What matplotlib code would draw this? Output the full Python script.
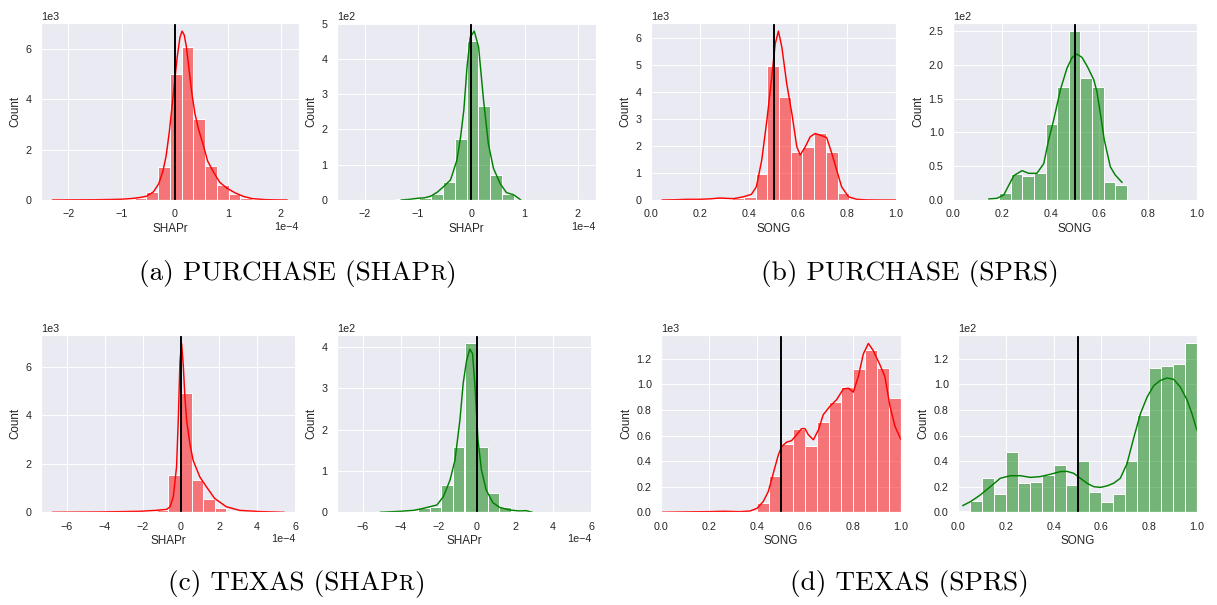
import numpy as np
import matplotlib
matplotlib.use("Agg")
import matplotlib.pyplot as plt
import seaborn as sns
from matplotlib.colors import to_rgba
from matplotlib.ticker import MaxNLocator

# SHAPr scores are listed in units of 1e-4, SONG scores as they are.
SHAPR_UNIT = 1e-4

# ---- PURCHASE, SHAPr (20 common bins over the pooled range) ----
purchase_shapr_range = (-2.30, 2.12)
purchase_shapr_mem = [2, 3, 5, 8, 12, 20, 40, 80, 330, 1320,
                      5000, 6070, 3230, 1360, 580, 220, 80, 30, 15, 8]
purchase_shapr_non = [0, 0, 0, 0, 3, 4, 6, 18, 50, 172,
                      450, 267, 71, 17, 1, 0, 0, 0, 0, 0]
purchase_shapr_mem_kde_x = [-2.30, -1.90, -1.50, -1.20, -1.00, -0.80, -0.65, -0.53, -0.40, -0.30,
                            -0.22, -0.16, -0.10, -0.05, 0.00, 0.05, 0.10, 0.14, 0.18, 0.22,
                            0.27, 0.32, 0.38, 0.45, 0.53, 0.62, 0.72, 0.85, 0.99, 1.15,
                            1.30, 1.46, 1.70, 1.90, 2.12]
purchase_shapr_mem_kde_y = [0, 5, 10, 20, 30, 60, 100, 150, 320, 640,
                            1150, 1750, 2700, 3700, 4700, 5700, 6450, 6700, 6550, 6100,
                            5200, 4300, 3450, 2800, 2250, 1550, 1150, 700, 460, 270,
                            140, 55, 15, 5, 0]
purchase_shapr_non_kde_x = [-1.32, -1.15, -1.00, -0.88, -0.76, -0.64, -0.52, -0.39, -0.27, -0.20,
                            -0.14, -0.08, -0.02, 0.056, 0.137, 0.23, 0.32, 0.416, 0.54, 0.66,
                            0.79, 0.86, 0.93]
purchase_shapr_non_kde_y = [0, 2, 5, 6, 11, 22, 38, 57, 113, 180,
                            255, 377, 462, 479, 434, 283, 160, 90, 47, 21,
                            15, 8, 0]

# ---- PURCHASE, SONG ----
purchase_song_range = (0.045, 1.0)
purchase_song_mem = [5, 10, 20, 30, 50, 40, 60, 120, 960, 4970,
                     3830, 1770, 1980, 2490, 1790, 270, 10, 3, 2, 2]
purchase_song_non = [0, 0, 1, 11, 38, 36, 40, 113, 168, 250,
                     180, 168, 27, 22, 0, 0, 0, 0, 0, 0]
purchase_song_mem_kde_x = [0.045, 0.10, 0.147, 0.20, 0.24, 0.28, 0.31, 0.337, 0.378, 0.41,
                           0.43, 0.452, 0.473, 0.493, 0.507, 0.52, 0.534, 0.554, 0.575, 0.595,
                           0.609, 0.63, 0.65, 0.67, 0.69, 0.717, 0.738, 0.758, 0.778, 0.806,
                           0.84, 0.88, 0.94, 1.0]
purchase_song_mem_kde_y = [0, 10, 25, 25, 40, 74, 60, 50, 120, 210,
                           490, 1480, 2960, 4570, 5800, 6270, 5680, 4320, 3210, 1980,
                           1670, 1980, 2350, 2470, 2410, 2320, 1730, 1110, 490, 120,
                           25, 5, 0, 0]
purchase_song_non_kde_x = [0.146, 0.18, 0.208, 0.249, 0.283, 0.31, 0.344, 0.372, 0.392, 0.413,
                           0.44, 0.467, 0.488, 0.508, 0.529, 0.55, 0.577, 0.59, 0.604, 0.62,
                           0.645, 0.665, 0.68, 0.693]
purchase_song_non_kde_y = [1.5, 2.5, 7.4, 36, 43.5, 39.5, 39.5, 54, 89, 119,
                           163, 195, 211, 216, 211, 198, 178, 160, 128, 89,
                           49, 37, 31, 26]

# ---- TEXAS, SHAPr ----
texas_shapr_range = (-6.75, 5.43)
texas_shapr_mem = [2, 2, 3, 4, 5, 6, 10, 20, 45, 100,
                   1530, 4910, 1320, 550, 190, 60, 30, 15, 8, 4]
texas_shapr_non = [0, 0, 0, 1, 1, 3, 10, 14, 65, 159,
                   409, 159, 46, 14, 3, 1, 0, 0, 0, 0]
texas_shapr_mem_kde_x = [-6.75, -4.23, -2.14, -1.27, -0.75, -0.57, -0.40, -0.23, -0.14, -0.05,
                         0.035, 0.12, 0.21, 0.30, 0.47, 0.64, 0.99, 1.34, 1.77, 2.38,
                         3.08, 4.12, 5.43]
texas_shapr_mem_kde_y = [0, 14, 41, 82, 120, 230, 640, 1870, 3780, 6230,
                         6960, 6100, 4730, 3780, 2830, 2140, 1460, 1050, 570, 230,
                         80, 30, 0]
texas_shapr_non_kde_x = [-5.09, -4.02, -3.32, -2.81, -2.46, -2.11, -1.77, -1.42, -1.16, -0.90,
                         -0.73, -0.55, -0.38, -0.24, -0.12, 0.05, 0.23, 0.48, 0.83, 1.18,
                         1.70, 2.22, 2.56, 2.91]
texas_shapr_non_kde_y = [0, 2.4, 4.8, 9.7, 13.7, 17.7, 37.9, 78.2, 126.6, 223.4,
                         312.1, 368.5, 395.2, 384.7, 312.1, 175, 102.4, 54, 23.4, 12.1,
                         5.6, 3.2, 4, 0]

# ---- TEXAS, SONG ----
texas_song_range = (0.0, 1.0)
texas_song_mem = [3, 2, 3, 2, 6, 7, 4, 10, 76, 280,
                  536, 654, 515, 703, 860, 978, 1124, 1265, 1127, 891]
texas_song_non = [1, 9, 27, 14, 47, 23, 24, 29, 37, 21,
                  40, 16, 8, 14, 40, 76, 113, 114, 116, 132]
texas_song_mem_kde_x = [0, 0.107, 0.2, 0.26, 0.329, 0.371, 0.4, 0.426, 0.447, 0.468,
                        0.489, 0.503, 0.524, 0.544, 0.565, 0.586, 0.6, 0.614, 0.635, 0.656,
                        0.676, 0.704, 0.732, 0.760, 0.781, 0.801, 0.822, 0.843, 0.864, 0.885,
                        0.913, 0.933, 0.954, 0.975, 1.0]
texas_song_mem_kde_y = [0, 3, 5, 8, 5, 10, 31, 84, 162, 306,
                        449, 515, 549, 560, 606, 654, 654, 606, 567, 645,
                        763, 829, 881, 965, 970, 939, 1060, 1238, 1320, 1262,
                        1150, 1060, 829, 672, 567]
texas_song_non_kde_x = [0.0195, 0.052, 0.093, 0.135, 0.177, 0.219, 0.261, 0.303, 0.344, 0.386,
                        0.428, 0.456, 0.484, 0.512, 0.54, 0.568, 0.596, 0.623, 0.651, 0.679,
                        0.707, 0.735, 0.763, 0.791, 0.819, 0.846, 0.874, 0.902, 0.93, 0.958,
                        0.979, 1.0]
texas_song_non_kde_y = [5.2, 8.3, 13.5, 20, 26.6, 28.6, 28.6, 27.3, 27.9, 29.7,
                        31.8, 32, 30.5, 26.6, 22.7, 20, 19.5, 20.6, 22.7, 26.6,
                        38, 58, 77, 90, 99, 103, 105, 104, 98, 88,
                        77, 64]

captions = ["(a) PURCHASE (SHAP", "(b) PURCHASE (SPRS)",
            "(c) TEXAS (SHAP", "(d) TEXAS (SPRS)"]

# ---- style ----
sns.set_theme(style="darkgrid")
plt.rcParams.update({
    "font.family": ["Liberation Sans", "DejaVu Sans"],
    "xtick.labelsize": 11,
    "ytick.labelsize": 11,
    "axes.labelsize": 12,
    "xtick.major.size": 0,
    "ytick.major.size": 0,
    "xtick.major.pad": 9.5,
    "ytick.major.pad": 9.5,
    "grid.linewidth": 1,
})

DPI = 70
fig = plt.figure(figsize=(1217 / DPI, 605 / DPI), dpi=DPI)
W, H = 1217.0, 605.0


def add_ax(left, top, right, bottom, **kw):
    return fig.add_axes([left / W, 1 - bottom / H, (right - left) / W, (bottom - top) / H], **kw)


def draw(ax, rng, counts, kx, ky, color, xlabel, scale=1.0, thresh=0.0):
    edges = np.linspace(rng[0], rng[1], len(counts) + 1) * scale
    ax.bar(edges[:-1], counts, width=np.diff(edges), align="edge",
           facecolor=to_rgba(color, 0.5), edgecolor="white", linewidth=1)
    ax.plot(np.asarray(kx) * scale, ky, color=color, lw=1.5)
    ax.axvline(thresh, color="black", lw=2)
    ax.set_xlabel(xlabel)
    ax.set_ylabel("Count")
    ax.yaxis.set_major_locator(MaxNLocator(7, steps=[1, 2, 2.5, 5, 10]))
    ax.ticklabel_format(style="sci", axis="both", scilimits=(0, 0))


ax1 = add_ax(40.7, 22.7, 299, 200)
ax2 = add_ax(337, 22.7, 596, 200, sharex=ax1)
ax3 = add_ax(651, 22.7, 896, 200)
ax4 = add_ax(953, 22.7, 1197, 200)
ax5 = add_ax(40.7, 335, 296, 512.3)
ax6 = add_ax(337, 335, 592, 512.3, sharex=ax5)
ax7 = add_ax(661, 335, 901, 512.3)
ax8 = add_ax(958, 335, 1197, 512.3)

draw(ax1, purchase_shapr_range, purchase_shapr_mem, purchase_shapr_mem_kde_x,
     purchase_shapr_mem_kde_y, "red", "SHAPr", SHAPR_UNIT)
draw(ax2, purchase_shapr_range, purchase_shapr_non, purchase_shapr_non_kde_x,
     purchase_shapr_non_kde_y, "green", "SHAPr", SHAPR_UNIT)
draw(ax3, purchase_song_range, purchase_song_mem, purchase_song_mem_kde_x,
     purchase_song_mem_kde_y, "red", "SONG", thresh=0.5)
draw(ax4, purchase_song_range, purchase_song_non, purchase_song_non_kde_x,
     purchase_song_non_kde_y, "green", "SONG", thresh=0.5)
draw(ax5, texas_shapr_range, texas_shapr_mem, texas_shapr_mem_kde_x,
     texas_shapr_mem_kde_y, "red", "SHAPr", SHAPR_UNIT)
draw(ax6, texas_shapr_range, texas_shapr_non, texas_shapr_non_kde_x,
     texas_shapr_non_kde_y, "green", "SHAPr", SHAPR_UNIT)
draw(ax7, texas_song_range, texas_song_mem, texas_song_mem_kde_x,
     texas_song_mem_kde_y, "red", "SONG", thresh=0.5)
draw(ax8, texas_song_range, texas_song_non, texas_song_non_kde_x,
     texas_song_non_kde_y, "green", "SONG", thresh=0.5)
for ax in (ax3, ax4, ax7, ax8):
    ax.set_xlim(0, 1)

# sub-figure captions, with a small-caps "R" for SHAPr
renderer = fig.canvas.get_renderer()
CAP_SIZE = 28


def caption(cx, base_y, pieces):
    texts = []
    for s, size in pieces:
        texts.append(fig.text(0, 1 - base_y / H, s, fontsize=size, family="cmr10",
                              va="baseline", ha="left", color="black"))
    widths = [t.get_window_extent(renderer).width for t in texts]
    x = cx - sum(widths) / 2
    for t, w in zip(texts, widths):
        t.set_x(x / W)
        x += w


caption(297.5, 280, [(captions[0], CAP_SIZE), ("R", CAP_SIZE * 0.78), (")", CAP_SIZE)])
caption(910, 280, [(captions[1], CAP_SIZE)])
caption(296.5, 590, [(captions[2], CAP_SIZE), ("R", CAP_SIZE * 0.78), (")", CAP_SIZE)])
caption(909, 590, [(captions[3], CAP_SIZE)])

fig.savefig("out.png", dpi=DPI)
